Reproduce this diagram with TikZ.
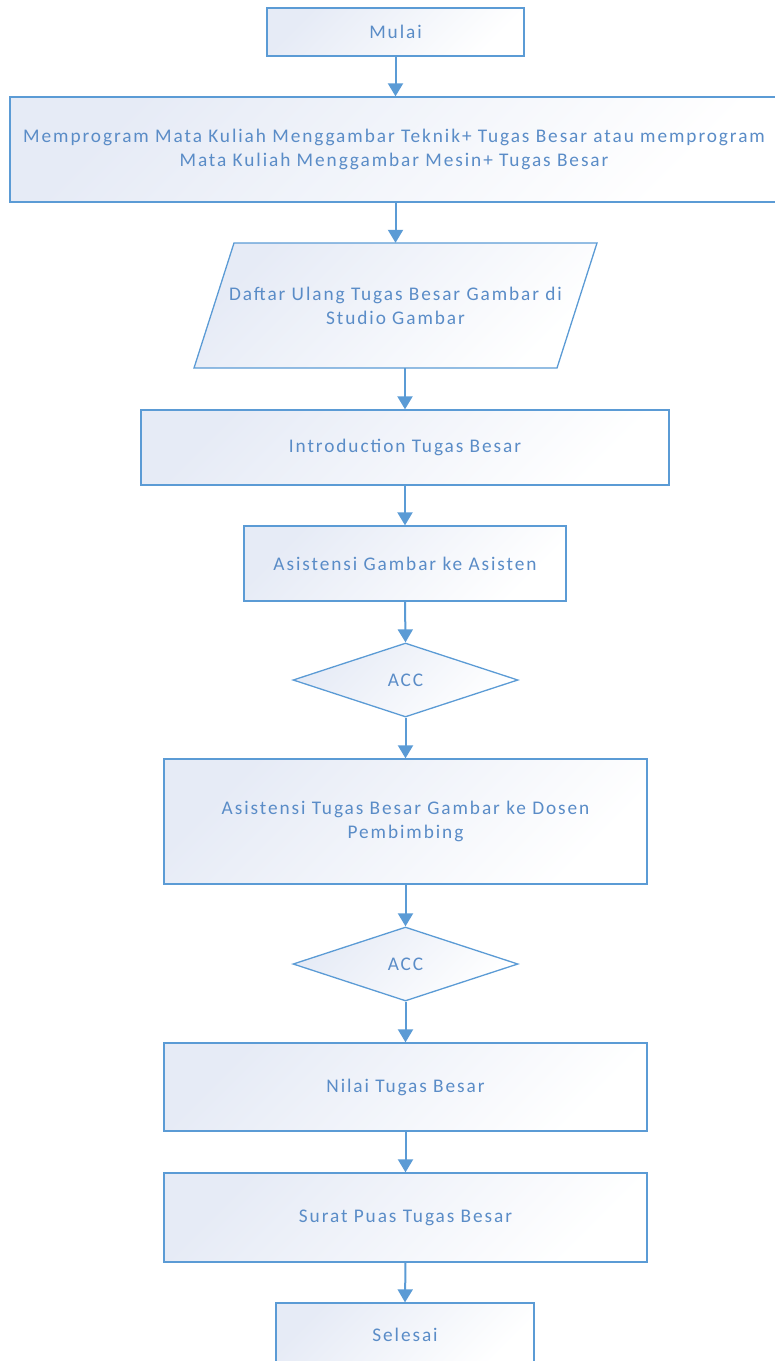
\documentclass[tikz,border=0pt]{standalone}
\usepackage{fontspec}
\setmainfont{Carlito}[LetterSpace=10]
\usetikzlibrary{shapes.geometric,arrows.meta,calc}
\definecolor{lineblue}{HTML}{5B9BD5}
\definecolor{textblue}{HTML}{5A8CC7}
\definecolor{fillblue}{HTML}{E6EBF6}
\tikzset{
  shadefill/.style={left color=fillblue, right color=white, shading angle=45},
  base/.style={draw=lineblue, line width=1.3pt, text=textblue,
    font=\fontsize{19.3}{24}\selectfont, align=center, inner sep=0pt, shadefill},
  procbox/.style={base, rectangle},
  decbox/.style={base, diamond},
  txtonly/.style={text=textblue, font=\fontsize{19.3}{24}\selectfont, align=center, inner sep=0pt},
  arr/.style={draw=lineblue, line width=2pt, -{Triangle[width=15pt,length=13pt]}}
}
\begin{document}
\begin{tikzpicture}[x=1pt,y=-1pt]
\useasboundingbox (0,0) rectangle (775,1361);
\clip (0,0) rectangle (775,1361);
\node[procbox, minimum width=257pt, minimum height=48pt] (mulai) at (395.5,32) {Mulai};
\node[procbox, minimum width=768pt, minimum height=105pt] (prog) at (394,149.5)
  {Memprogram Mata Kuliah Menggambar Teknik+ Tugas Besar atau memprogram\\Mata Kuliah Menggambar Mesin+ Tugas Besar};
\coordinate (dc) at (395.5,305.5);
\path[draw=lineblue, line width=1.3pt, shadefill]
  ($(dc)+(-201.5,62.5)$) -- ($(dc)+(-161.5,-62.5)$) -- ($(dc)+(201.5,-62.5)$) -- ($(dc)+(161.5,62.5)$) -- cycle;
\node[txtonly, minimum width=403pt, minimum height=125pt] (daftar) at (dc)
  {Daftar Ulang Tugas Besar Gambar di\\Studio Gambar};
\node[procbox, minimum width=528pt, minimum height=75pt] (intro) at (405,447.5) {Introduction Tugas Besar};
\node[procbox, minimum width=322pt, minimum height=75pt] (asis) at (405,563.5) {Asistensi Gambar ke Asisten};
\node[decbox, minimum width=225pt, minimum height=74pt] (acc1) at (405.5,680) {ACC};
\node[procbox, minimum width=483pt, minimum height=125pt] (dosen) at (405.5,821.5)
  {Asistensi Tugas Besar Gambar ke Dosen\\Pembimbing};
\node[decbox, minimum width=225pt, minimum height=74pt] (acc2) at (405.5,964) {ACC};
\node[procbox, minimum width=483pt, minimum height=88pt] (nilai) at (405.5,1087) {Nilai Tugas Besar};
\node[procbox, minimum width=483pt, minimum height=89pt] (surat) at (405.5,1217.5) {Surat Puas Tugas Besar};
\node[procbox, minimum width=258pt, minimum height=64pt] (selesai) at (405,1335) {Selesai};
\draw[arr] (mulai.south) -- (mulai.south |- prog.north);
\draw[arr] (mulai.south |- prog.south) -- (mulai.south |- daftar.north);
\draw[arr] (intro.north |- daftar.south) -- (intro.north);
\draw[arr] (intro.south) -- (asis.north);
\draw[arr] (asis.south) -- (acc1.north);
\draw[arr] (acc1.south) -- (dosen.north);
\draw[arr] (dosen.south) -- (acc2.north);
\draw[arr] (acc2.south) -- (nilai.north);
\draw[arr] (nilai.south) -- (surat.north);
\draw[arr] (surat.south) -- (selesai.north);
\end{tikzpicture}
\end{document}
